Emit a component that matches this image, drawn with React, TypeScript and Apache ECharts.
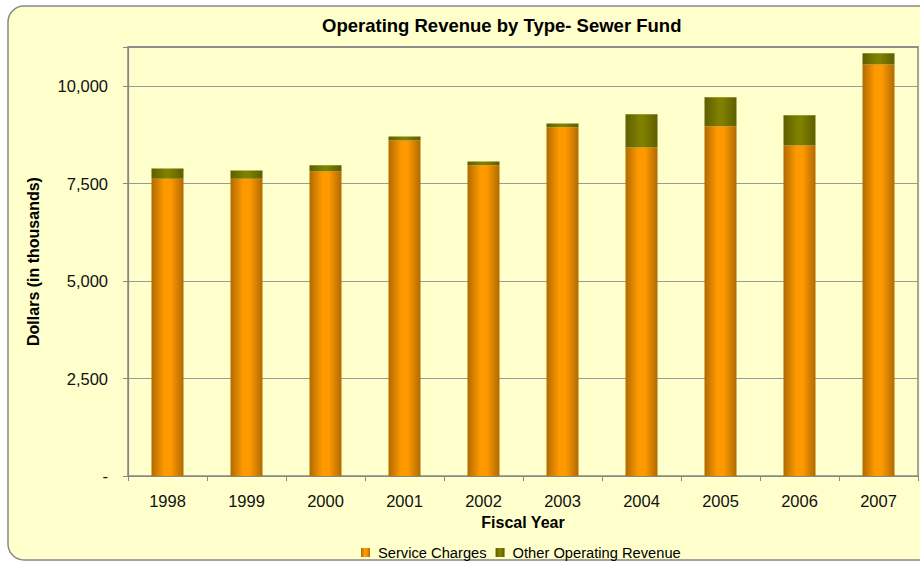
import React, { useEffect, useRef } from "react";
import * as echarts from "echarts";

const years = ["1998", "1999", "2000", "2001", "2002", "2003", "2004", "2005", "2006", "2007"];
const serviceCharges = [7620, 7620, 7810, 8600, 7970, 8940, 8425, 8965, 8475, 10550];
const otherOperating = [265, 215, 155, 108, 95, 100, 848, 745, 773, 290];
const seriesNames = ["Service Charges", "Other Operating Revenue"];
const titleText = "Operating Revenue by Type- Sewer Fund";
const xAxisTitle = "Fiscal Year";
const yAxisTitle = "Dollars (in thousands)";

const FONT = "'Liberation Sans', Arial, sans-serif";

export default function App() {
  const ref = useRef<HTMLDivElement>(null);
  useEffect(() => {
    if (!ref.current) return;
    const chart = echarts.init(ref.current, null, { renderer: "svg" });
    const orange = new echarts.graphic.LinearGradient(0, 0, 1, 0, [
      { offset: 0, color: "#B06A00" },
      { offset: 0.4, color: "#FF9900" },
      { offset: 0.6, color: "#FF9900" },
      { offset: 1, color: "#B06A00" },
    ]);
    const olive = new echarts.graphic.LinearGradient(0, 0, 1, 0, [
      { offset: 0, color: "#5E5E00" },
      { offset: 0.45, color: "#808000" },
      { offset: 0.55, color: "#808000" },
      { offset: 1, color: "#5E5E00" },
    ]);
    chart.setOption({
      animation: false,
      backgroundColor: "#ffffff",
      textStyle: { fontFamily: FONT },
      graphic: [
        {
          type: "rect",
          z: -10,
          silent: true,
          shape: { x: 8, y: 6, width: 940, height: 554, r: 16 },
          style: { fill: "#FFFFCC", stroke: "#888888", lineWidth: 1.5 },
        },
      ],
      title: {
        text: titleText,
        left: 317,
        top: 11,
        textStyle: { fontFamily: FONT, fontWeight: "bold", fontSize: 18.5, color: "#000" },
      },
      legend: {
        left: 356,
        top: 540,
        itemWidth: 9,
        itemHeight: 9,
        itemGap: 9,
        icon: "rect",
        textStyle: { fontFamily: FONT, fontSize: 14.7, color: "#000", padding: [0, 0, 0, 3] },
        data: seriesNames,
      },
      grid: {
        left: 128,
        top: 47,
        right: 2,
        bottom: 86,
        show: true,
        borderColor: "#888888",
        borderWidth: 1.5,
        backgroundColor: "transparent",
      },
      xAxis: [
        {
          type: "category",
          data: years,
          name: xAxisTitle,
          nameLocation: "middle",
          nameGap: 38,
          nameTextStyle: { fontFamily: FONT, fontWeight: "bold", fontSize: 16, color: "#000" },
          axisLine: { show: true, lineStyle: { color: "#888888", width: 1.2 } },
          axisTick: { show: true, alignWithLabel: false, length: 5, lineStyle: { color: "#888888" } },
          axisLabel: { fontFamily: FONT, fontSize: 16.5, color: "#111", margin: 16 },
        },
        {
          type: "category",
          data: years,
          position: "top",
          axisLine: { show: true, lineStyle: { color: "#888888", width: 1.5 } },
          axisTick: { show: false },
          axisLabel: { show: false },
          splitLine: { show: false },
        },
      ],
      yAxis: {
        type: "value",
        min: 0,
        max: 11000,
        interval: 2500,
        name: yAxisTitle,
        nameLocation: "middle",
        nameGap: 87,
        nameTextStyle: { fontFamily: FONT, fontWeight: "bold", fontSize: 16, color: "#000" },
        axisLine: { show: true, lineStyle: { color: "#888888", width: 1.2 } },
        axisTick: { show: true, length: 5, lineStyle: { color: "#888888" } },
        axisLabel: {
          fontFamily: FONT,
          fontSize: 16.5,
          color: "#111",
          margin: 20,
          formatter: (v: number) => {
            if (v === 0) return "-";
            if (v > 10000) return "";
            return v.toLocaleString("en-US");
          },
        },
        splitLine: { show: true, lineStyle: { color: "#999999", width: 1.2 } },
      },
      series: [
        {
          name: seriesNames[0],
          type: "bar",
          stack: "total",
          barWidth: 32,
          data: serviceCharges,
          itemStyle: { color: orange },
        },
        {
          name: seriesNames[1],
          type: "bar",
          stack: "total",
          barWidth: 32,
          data: otherOperating,
          itemStyle: { color: olive },
        },
      ],
    });
    return () => chart.dispose();
  }, []);
  return (
    <div
      ref={ref}
      style={{ position: "fixed", left: 0, top: 0, width: 920, height: 562 }}
    />
  );
}
